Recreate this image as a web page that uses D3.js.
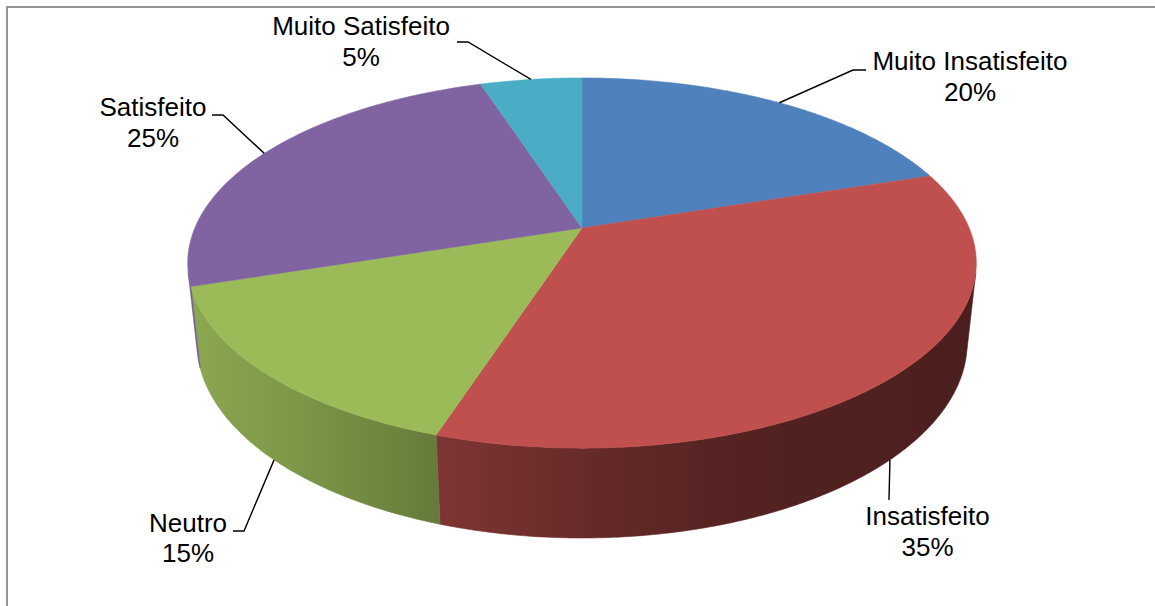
<!DOCTYPE html>
<html>
<head>
<meta charset="utf-8">
<script src="https://cdn.jsdelivr.net/npm/d3@7"></script>
<style>
  html, body { margin: 0; padding: 0; background: #ffffff; }
  svg { display: block; }
  text { font-family: "Liberation Sans", Arial, sans-serif; font-size: 26px; fill: #000; }
</style>
</head>
<body>
<svg id="chart" width="1155" height="606"></svg>
<script>
// Satisfaction survey results
const categories = ["Muito Insatisfeito", "Insatisfeito", "Neutro", "Satisfeito", "Muito Satisfeito"];
const values = [20, 35, 15, 25, 5];
const colors = ["#4F81BD", "#C0504D", "#9BBB59", "#8064A2", "#4BACC6"];

const W = 1155, H = 606;
const svg = d3.select("#chart");

// Frame of the chart area (only top and left edges fall inside the view)
svg.append("rect")
  .attr("x", 7).attr("y", 7)
  .attr("width", W + 20).attr("height", H + 20)
  .attr("fill", "none").attr("stroke", "#8a8a8a").attr("stroke-width", 1.8);

// Perspective camera for the 3D disc (unit radius, thickness `depthH`)
const cam = {
  cx: 582, cy: 228,     // screen position of the disc centre
  dist: 4.69,           // camera distance in radii
  sinA: 0.461, cosA: 0.887,
  focal: 1816
};
const depthH = 0.2328;

function project(x, z, y) {
  const depth = cam.dist - y * cam.sinA - z * cam.cosA;
  return [
    cam.cx + cam.focal * x / depth,
    cam.cy + cam.focal * (z * cam.sinA - y * cam.cosA) / depth
  ];
}
// angle measured clockwise from the back of the disc (matches d3.pie)
function rim(phi, y) { return project(Math.sin(phi), -Math.cos(phi), y); }

function arcPoints(a0, a1, y) {
  const n = Math.max(2, Math.ceil((a1 - a0) / (Math.PI / 360)));
  return d3.range(n + 1).map(i => rim(a0 + (a1 - a0) * i / n, y));
}

const pie = d3.pie().sort(null).value(d => d).startAngle(0).endAngle(2 * Math.PI);
const arcs = pie(values);
const total = d3.sum(values);
const line = d3.line().curve(d3.curveLinear);

// Shading of the outer wall, as a function of screen x
const shadeStops = [
  { x: 188, k: 0.90 },
  { x: 300, k: 0.80 },
  { x: 437, k: 0.66 },
  { x: 600, k: 0.52 },
  { x: 750, k: 0.43 },
  { x: 976, k: 0.39 }
];
const defs = svg.append("defs");
arcs.forEach((a, i) => {
  const g = defs.append("linearGradient")
    .attr("id", "wall" + i)
    .attr("gradientUnits", "userSpaceOnUse")
    .attr("x1", 188).attr("y1", 0).attr("x2", 976).attr("y2", 0);
  const base = d3.rgb(colors[i]);
  shadeStops.forEach(s => {
    const c = d3.rgb(base.r * s.k, base.g * s.k, base.b * s.k);
    g.append("stop")
      .attr("offset", ((s.x - 188) / (976 - 188) * 100) + "%")
      .attr("stop-color", c.formatHex());
  });
});

// Visible part of the cylinder wall
const phiMin = Math.acos(-1 / (cam.dist * cam.cosA));
const phiMax = 2 * Math.PI - phiMin;

const walls = svg.append("g");
arcs.forEach((a, i) => {
  const s = Math.max(a.startAngle, phiMin), e = Math.min(a.endAngle, phiMax);
  if (e <= s) return;
  const pts = arcPoints(s, e, 0).concat(arcPoints(s, e, -depthH).reverse());
  walls.append("path")
    .attr("d", line(pts) + "Z")
    .attr("fill", `url(#wall${i})`)
    .attr("stroke", `url(#wall${i})`)
    .attr("stroke-width", 0.6);
});

// Top faces
const tops = svg.append("g");
const centre = project(0, 0, 0);
arcs.forEach((a, i) => {
  const pts = [centre].concat(arcPoints(a.startAngle, a.endAngle, 0));
  tops.append("path")
    .attr("d", line(pts) + "Z")
    .attr("fill", colors[i])
    .attr("stroke", colors[i])
    .attr("stroke-width", 0.5)
    .attr("stroke-linejoin", "round");
});

// Data labels with leader lines
const labelLayout = [
  { tx: 970,   ty: 70,    rimLevel: 0,        bend: [[853, 70], [866, 70]] },
  { tx: 927.5, ty: 525,   rimLevel: -depthH,  bend: [[889, 500]] },
  { tx: 188,   ty: 531.5, rimLevel: -depthH,  bend: [[244, 531], [233, 531]] },
  { tx: 153,   ty: 116,   rimLevel: 0,        bend: [[223, 115], [212, 115]] },
  { tx: 361,   ty: 35,    rimLevel: 0,        bend: [[468, 42], [457, 42]] }
];
const labels = svg.append("g");
arcs.forEach((a, i) => {
  const L = labelLayout[i];
  const mid = (a.startAngle + a.endAngle) / 2;
  const anchor = rim(mid, L.rimLevel);
  labels.append("path")
    .attr("d", line([anchor].concat(L.bend)))
    .attr("fill", "none").attr("stroke", "#000").attr("stroke-width", 1.4);
  const t = labels.append("text").attr("text-anchor", "middle");
  t.append("tspan").attr("x", L.tx).attr("y", L.ty).text(categories[i]);
  t.append("tspan").attr("x", L.tx).attr("y", L.ty + 30.5)
    .text(Math.round(values[i] / total * 100) + "%");
});
</script>
</body>
</html>
